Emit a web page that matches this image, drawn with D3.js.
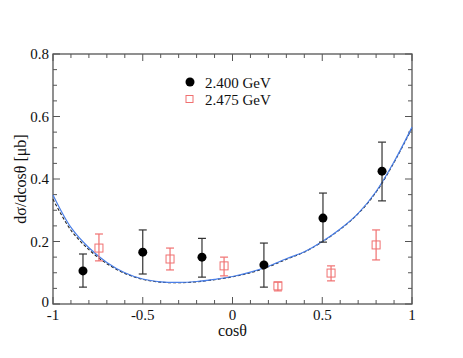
<!DOCTYPE html>
<html>
<head>
<meta charset="utf-8">
<script src="https://cdn.jsdelivr.net/npm/d3@7.9.0/dist/d3.min.js"></script>
<style>
  body { margin: 0; background: #fff; }
  svg { display: block; font-family: "Liberation Serif", "DejaVu Serif", serif; }
</style>
</head>
<body>
<svg id="chart" width="463" height="358"></svg>
<script>
// data
const cos240 = [-0.833, -0.5, -0.17, 0.175, 0.504, 0.833];
const val240 = [0.106, 0.166, 0.15, 0.125, 0.275, 0.425];
const lo240 = [0.054, 0.096, 0.086, 0.054, 0.198, 0.33];
const hi240 = [0.16, 0.237, 0.21, 0.195, 0.355, 0.518];

const cos2475 = [-0.744, -0.348, -0.047, 0.253, 0.549, 0.8];
const val2475 = [0.179, 0.144, 0.122, 0.058, 0.099, 0.189];
const lo2475 = [0.138, 0.109, 0.09, 0.042, 0.074, 0.141];
const hi2475 = [0.224, 0.179, 0.15, 0.07, 0.122, 0.237];

const curveX = [-1, -0.9, -0.8, -0.7, -0.6, -0.5, -0.4, -0.3, -0.2, -0.1, 0, 0.1, 0.2, 0.3, 0.4, 0.5, 0.6, 0.7, 0.8, 0.9, 1];
const solidY = [0.349, 0.245, 0.18, 0.133, 0.1, 0.08, 0.071, 0.069, 0.072, 0.079, 0.088, 0.102, 0.121, 0.145, 0.167, 0.2, 0.24, 0.29, 0.36, 0.455, 0.566];
const dashY = [0.335, 0.236, 0.174, 0.129, 0.098, 0.079, 0.07, 0.068, 0.071, 0.078, 0.087, 0.1, 0.119, 0.143, 0.166, 0.199, 0.239, 0.289, 0.358, 0.453, 0.563];

const xTicks = [-1, -0.5, 0, 0.5, 1];
const yTicks = [0, 0.2, 0.4, 0.6, 0.8];
const legendLabels = ['2.400 GeV', '2.475 GeV'];

const svg = d3.select('#chart');
const m = { left: 53, right: 412, top: 54, bottom: 304 };
const x = d3.scaleLinear().domain([-1, 1]).range([m.left, m.right]);
const y = d3.scaleLinear().domain([0, 0.8]).range([m.bottom, m.top]);
const axisColor = '#555';
const red = '#f07070';

// frame
svg.append('rect')
  .attr('x', m.left).attr('y', m.top)
  .attr('width', m.right - m.left).attr('height', m.bottom - m.top)
  .attr('fill', 'none').attr('stroke', axisColor).attr('stroke-width', 1.3);

// inward ticks on all four sides
const xMinor = d3.range(-1, 1.0001, 0.1);
const yMinor = d3.range(0, 0.8001, 0.05);
const isMajor = (v, step) => Math.abs(v / step - Math.round(v / step)) < 1e-6;
const tickG = svg.append('g').attr('stroke', axisColor).attr('stroke-width', 1);
xMinor.forEach((v) => {
  const len = isMajor(v, 0.5) ? 7 : 4;
  tickG.append('line').attr('x1', x(v)).attr('x2', x(v)).attr('y1', m.bottom).attr('y2', m.bottom - len);
  tickG.append('line').attr('x1', x(v)).attr('x2', x(v)).attr('y1', m.top).attr('y2', m.top + len);
});
yMinor.forEach((v) => {
  const len = isMajor(v, 0.2) ? 7 : 4;
  tickG.append('line').attr('y1', y(v)).attr('y2', y(v)).attr('x1', m.left).attr('x2', m.left + len);
  tickG.append('line').attr('y1', y(v)).attr('y2', y(v)).attr('x1', m.right).attr('x2', m.right - len);
});

// tick labels
svg.append('g').selectAll('text').data(xTicks).join('text')
  .attr('x', (d) => x(d)).attr('y', m.bottom + 16)
  .attr('text-anchor', 'middle').attr('font-size', 15).attr('fill', '#111')
  .text((d) => String(d));
svg.append('g').selectAll('text').data(yTicks).join('text')
  .attr('x', m.left - 4).attr('y', (d) => y(d) + (d === 0 ? 3 : 5))
  .attr('text-anchor', 'end').attr('font-size', 15).attr('fill', '#111')
  .text((d) => (d === 0 ? '0' : d3.format('.1f')(d)));

// axis titles
svg.append('text')
  .attr('x', (m.left + m.right) / 2).attr('y', m.bottom + 32)
  .attr('text-anchor', 'middle').attr('font-size', 16).attr('fill', '#111')
  .text('cosθ');
svg.append('text')
  .attr('transform', `translate(26,${(m.top + m.bottom) / 2}) rotate(-90)`)
  .attr('text-anchor', 'middle').attr('font-size', 16).attr('fill', '#111')
  .text('dσ/dcosθ [μb]');

// curves
const line = d3.line().x((d) => x(d[0])).y((d) => y(d[1])).curve(d3.curveCatmullRom);
svg.append('path')
  .attr('d', line(curveX.map((c, i) => [c, dashY[i]])))
  .attr('fill', 'none').attr('stroke', '#222').attr('stroke-width', 1.1)
  .attr('stroke-dasharray', '3,2');
svg.append('path')
  .attr('d', line(curveX.map((c, i) => [c, solidY[i]])))
  .attr('fill', 'none').attr('stroke', '#4a7fe8').attr('stroke-width', 1.2);

// error bars
function errorBars(xs, lo, hi, color) {
  const g = svg.append('g').attr('stroke', color).attr('stroke-width', 1.2);
  xs.forEach((c, i) => {
    g.append('line').attr('x1', x(c)).attr('x2', x(c)).attr('y1', y(lo[i])).attr('y2', y(hi[i]));
    [lo[i], hi[i]].forEach((v) => {
      g.append('line').attr('x1', x(c) - 4).attr('x2', x(c) + 4).attr('y1', y(v)).attr('y2', y(v));
    });
  });
}
errorBars(cos240, lo240, hi240, '#333');
errorBars(cos2475, lo2475, hi2475, red);

svg.append('g').selectAll('circle').data(cos240).join('circle')
  .attr('cx', (d) => x(d)).attr('cy', (d, i) => y(val240[i]))
  .attr('r', 4.5).attr('fill', '#000');
svg.append('g').selectAll('rect').data(cos2475).join('rect')
  .attr('x', (d) => x(d) - 4).attr('y', (d, i) => y(val2475[i]) - 4)
  .attr('width', 8).attr('height', 8)
  .attr('fill', 'none').attr('stroke', red).attr('stroke-width', 1);

// legend
svg.append('circle').attr('cx', 190).attr('cy', 82).attr('r', 4.5).attr('fill', '#000');
svg.append('rect').attr('x', 186).attr('y', 95.5).attr('width', 7).attr('height', 7)
  .attr('fill', 'none').attr('stroke', red).attr('stroke-width', 1);
legendLabels.forEach((t, i) => {
  svg.append('text').attr('x', 205).attr('y', 87.5 + i * 17.5)
    .attr('font-size', 15).attr('fill', '#111').text(t);
});
</script>
</body>
</html>
